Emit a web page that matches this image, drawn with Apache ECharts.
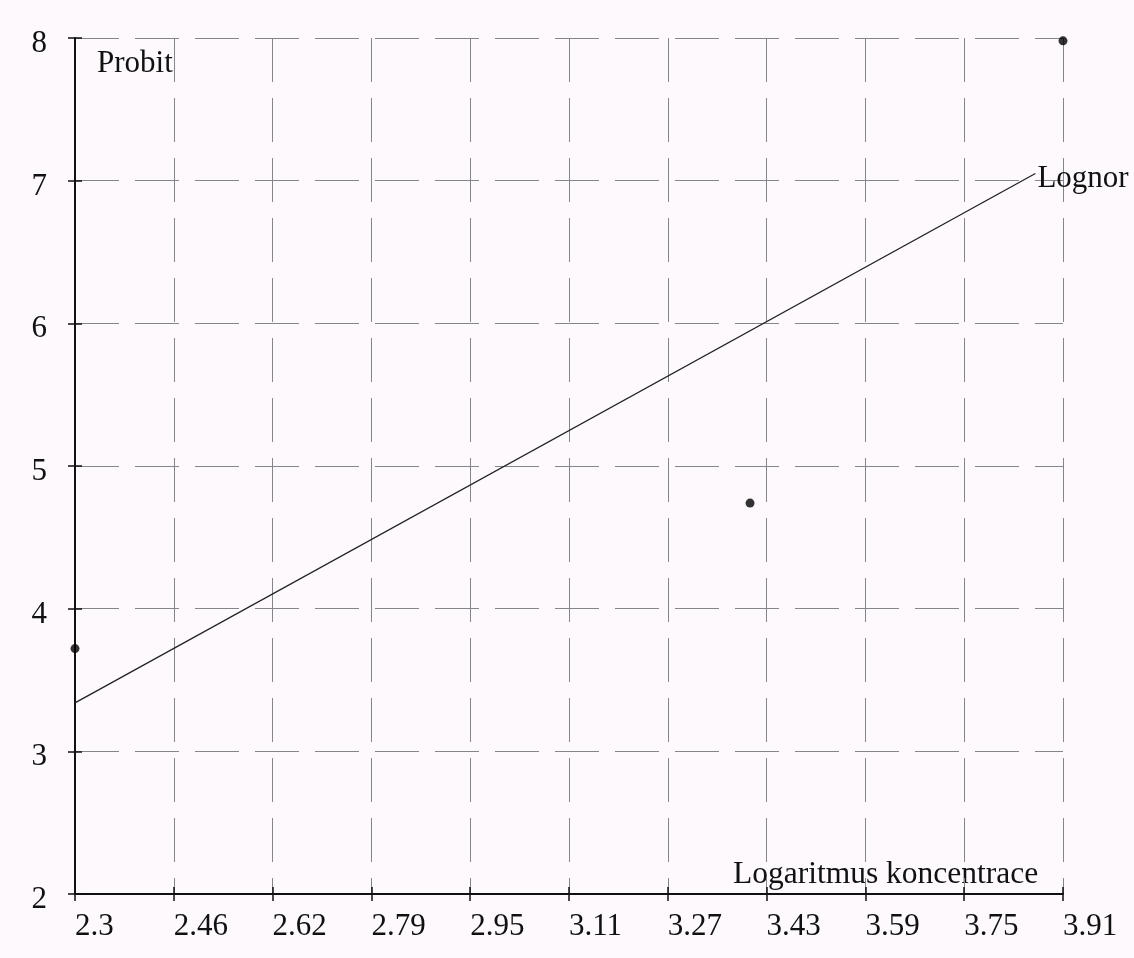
<!DOCTYPE html>
<html>
<head>
<meta charset="utf-8">
<script src="https://cdn.jsdelivr.net/npm/echarts@6/dist/echarts.min.js"></script>
<style>
html,body{margin:0;padding:0;background:#fdf9fc;}
#chart{width:1134px;height:958px;}
</style>
</head>
<body>
<div id="chart"></div>
<script>
// ---- data ----
var xTickValues = [2.3, 2.461, 2.622, 2.783, 2.944, 3.105, 3.266, 3.427, 3.588, 3.749, 3.91];
var xTickLabels = ['2.3', '2.46', '2.62', '2.79', '2.95', '3.11', '3.27', '3.43', '3.59', '3.75', '3.91'];
var yTickValues = [2, 3, 4, 5, 6, 7, 8];
var observedPoints = [[2.3, 3.72], [3.40, 4.74], [3.91, 7.98]];
var fitLine = [[2.3, 3.34], [3.865, 7.05]];
var yAxisTitle = 'Probit';
var xAxisTitle = 'Logaritmus koncentrace';
var lineName = 'Lognor';

var FONT = '"Liberation Serif", "DejaVu Serif", serif';

function xLabel(v) {
  for (var i = 0; i < xTickValues.length; i++) {
    if (Math.abs(xTickValues[i] - v) < 1e-6) return xTickLabels[i];
  }
  return '';
}

var chart = echarts.init(document.getElementById('chart'), null, {renderer: 'canvas'});
var option = {
  backgroundColor: '#fdf9fc',
  animation: false,
  grid: {left: 75, top: 38, right: 71, bottom: 64, containLabel: false},
  xAxis: [{
    type: 'value', min: 2.3, max: 3.91,
    axisLine: {show: true, onZero: false, lineStyle: {color: '#111', width: 2}},
    axisTick: {show: true, length: 7, customValues: xTickValues, lineStyle: {color: '#111', width: 1.5}},
    axisLabel: {customValues: xTickValues, formatter: xLabel, color: '#111', fontFamily: FONT, fontSize: 31, margin: 17, align: 'left'},
    splitLine: {show: true, lineStyle: {color: '#84848c', width: 1, type: [44, 16]}}
  }, {
    type: 'value', min: 2.3, max: 3.91, position: 'bottom',
    axisLine: {show: false, onZero: false},
    axisTick: {show: true, inside: true, length: 7, customValues: xTickValues, lineStyle: {color: '#111', width: 1.5}},
    axisLabel: {show: false},
    splitLine: {show: false}
  }],
  yAxis: [{
    type: 'value', min: 2, max: 8, interval: 1,
    axisLine: {show: true, onZero: false, lineStyle: {color: '#111', width: 2}},
    axisTick: {show: true, length: 7, lineStyle: {color: '#111', width: 1.5}},
    axisLabel: {color: '#111', fontFamily: FONT, fontSize: 31, margin: 28, verticalAlign: 'top', lineHeight: 12},
    splitLine: {show: true, lineStyle: {color: '#84848c', width: 1, type: [44, 16]}}
  }, {
    type: 'value', min: 2, max: 8, interval: 1, position: 'left',
    axisLine: {show: false, onZero: false},
    axisTick: {show: true, inside: true, length: 7, lineStyle: {color: '#111', width: 1.5}},
    axisLabel: {show: false},
    splitLine: {show: false}
  }],
  series: [{
    type: 'line',
    name: lineName,
    data: fitLine,
    xAxisIndex: 0, yAxisIndex: 0,
    showSymbol: false,
    symbol: 'none',
    lineStyle: {color: '#222', width: 1.3},
    endLabel: {show: true, formatter: lineName, color: '#111', fontFamily: FONT, fontSize: 31, distance: 2, offset: [0, 5]},
    z: 3
  }, {
    type: 'scatter',
    data: observedPoints,
    xAxisIndex: 0, yAxisIndex: 0,
    symbol: 'circle', symbolSize: 9,
    itemStyle: {color: '#000'},
    z: 4
  }],
  graphic: [{
    type: 'text', left: 97, top: 48,
    style: {text: yAxisTitle, fill: '#111', font: '31px ' + FONT}
  }, {
    type: 'text', left: 733, top: 859,
    style: {text: xAxisTitle, fill: '#111', font: '31.5px ' + FONT}
  }]
};
chart.setOption(option);
</script>
</body>
</html>
